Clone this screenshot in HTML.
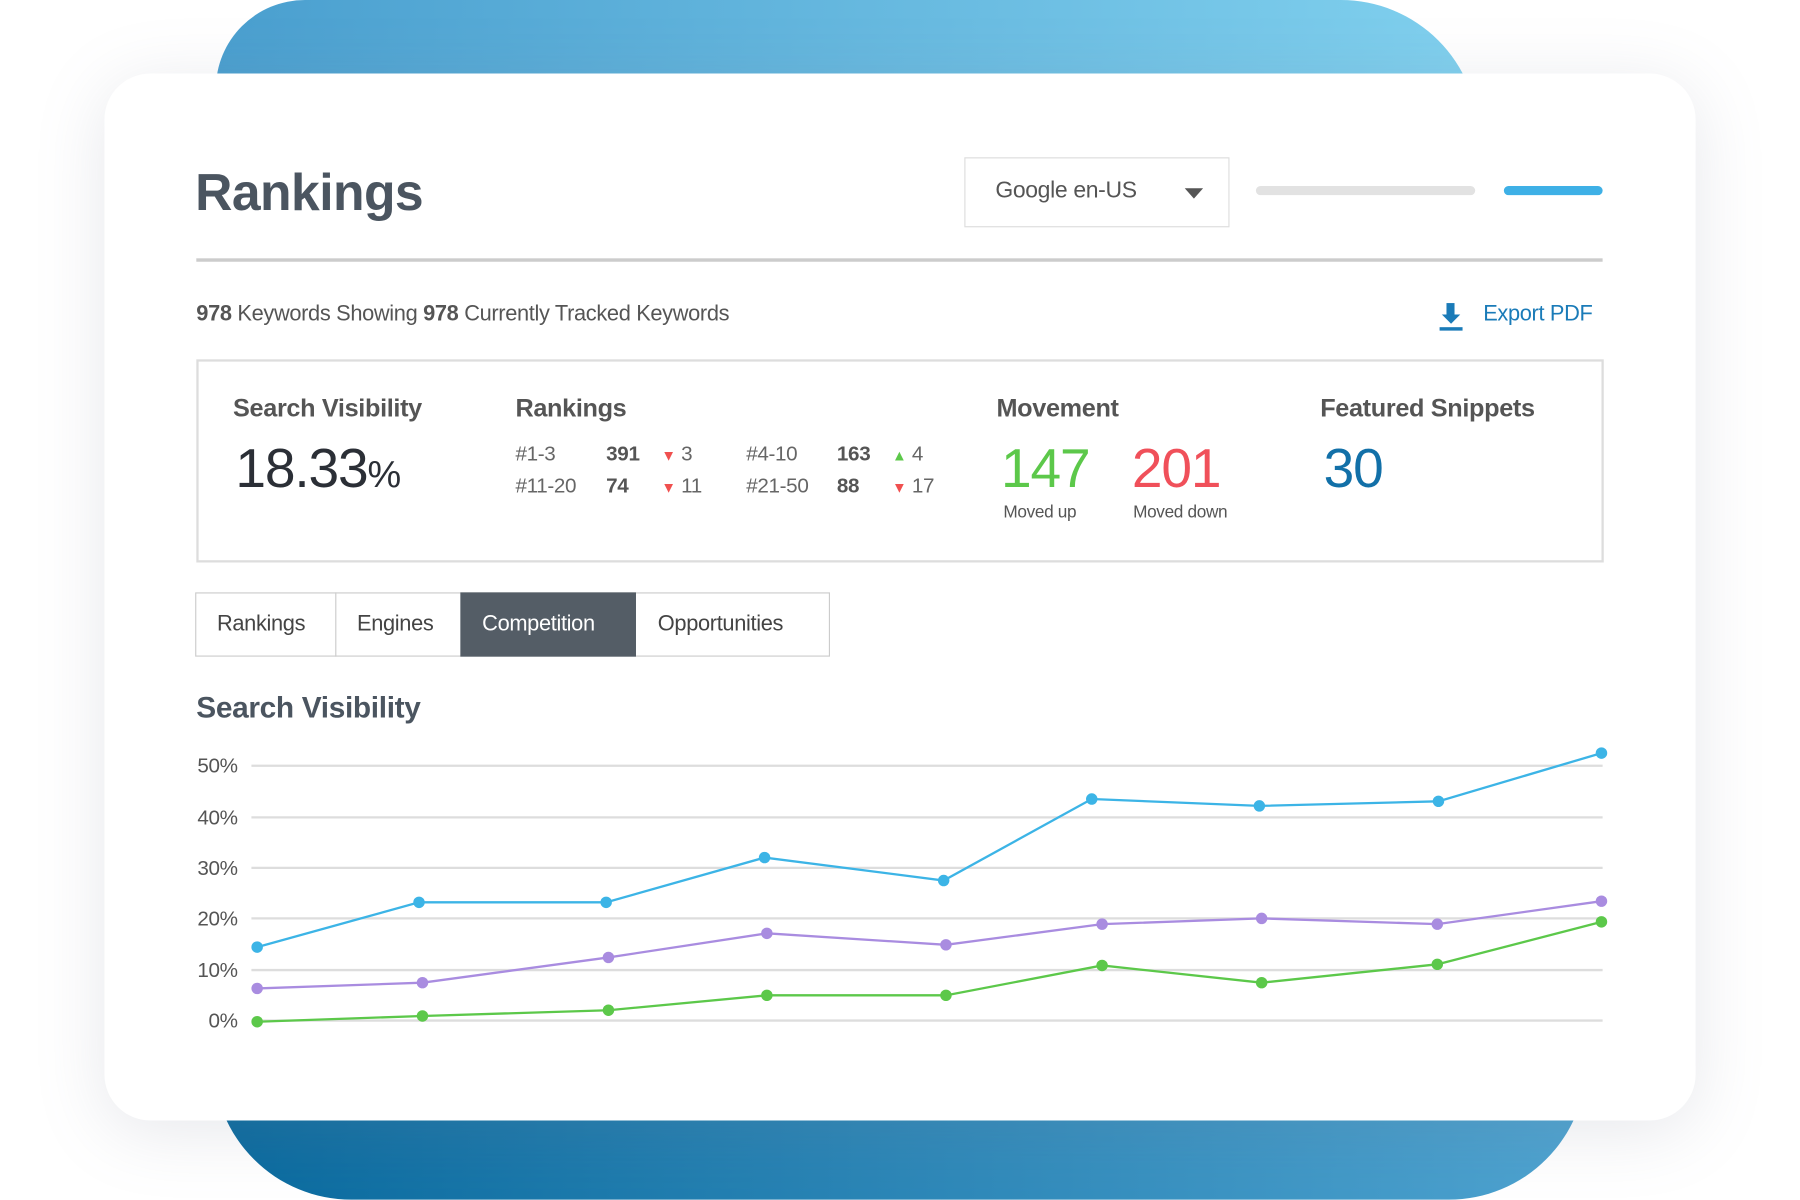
<!DOCTYPE html>
<html><head><meta charset="utf-8"><style>
html,body{margin:0;padding:0;width:1800px;height:1200px;overflow:hidden;background:#fff;}
#w{position:absolute;left:0;top:0;width:1568px;height:1045px;transform:scale(1.148);transform-origin:0 0;font-family:"Liberation Sans",sans-serif;color:#4b5560;letter-spacing:-0.3px;}
.a{position:absolute;white-space:nowrap;}
</style></head><body><div id="w">
<div class="a" style="left:188px;top:0;width:1100px;height:120px;border-radius:110px 170px 0 0;background:linear-gradient(90deg,#4a9fcf,#80d0ee);"></div>
<div class="a" style="left:186px;top:900px;width:1196px;height:145px;border-radius:0 0 120px 120px;background:linear-gradient(90deg,#0a6a9e,#4ea3d0);"></div>
<div class="a" style="left:91px;top:64px;width:1386px;height:912px;border-radius:40px;background:#fff;box-shadow:0 10px 60px rgba(120,130,150,0.18);"></div>
<div class="a" style="left:170px;top:142px;font-size:45px;font-weight:bold;letter-spacing:-0.5px;">Rankings</div>
<div class="a" style="left:840px;top:137px;width:229px;height:59px;border:1px solid #ddd;"></div>
<div class="a" style="left:867px;top:155px;font-size:20px;color:#555;">Google en-US</div>
<div class="a" style="left:1032px;top:164px;width:0;height:0;border-left:8px solid transparent;border-right:8px solid transparent;border-top:9px solid #555;"></div>
<div class="a" style="left:1094px;top:162px;width:191px;height:8px;border-radius:4px;background:#e2e2e2;"></div>
<div class="a" style="left:1310px;top:162px;width:86px;height:8px;border-radius:4px;background:#3eb0e6;"></div>
<div class="a" style="left:171px;top:225px;width:1225px;height:3px;background:#ccc;"></div>
<div class="a" style="left:171px;top:263px;font-size:19px;color:#555;"><b>978</b> Keywords Showing <b>978</b> Currently Tracked Keywords</div>
<div class="a" style="left:1292px;top:263px;font-size:19px;color:#1a7bb8;">Export PDF</div>
<div class="a" style="left:1260px;top:264px;width:7px;height:11px;background:#1a7bb8;"></div>
<div class="a" style="left:1256px;top:274px;width:0;height:0;border-left:8px solid transparent;border-right:8px solid transparent;border-top:8px solid #1a7bb8;"></div>
<div class="a" style="left:1254px;top:285px;width:20px;height:3px;background:#1a7bb8;"></div>
<div class="a" style="left:171px;top:313px;width:1222px;height:173px;border:2px solid #ddd;"></div>
<div class="a" style="left:203px;top:343px;font-size:22px;font-weight:bold;color:#555;">Search Visibility</div>
<div class="a" style="left:205px;top:381px;font-size:48px;color:#2b2f36;letter-spacing:-1px;">18.33<span style="font-size:33px">%</span></div>
<div class="a" style="left:449px;top:343px;font-size:22px;font-weight:bold;color:#555;">Rankings</div>
<div class="a" style="left:449px;top:385px;font-size:18px;color:#666;">#1-3</div>
<div class="a" style="left:528px;top:385px;font-size:18px;font-weight:bold;color:#555;">391</div>
<div class="a" style="left:576px;top:385px;font-size:18px;color:#666;"><span style="color:#f0504f;font-size:13px">▼</span> 3</div>
<div class="a" style="left:650px;top:385px;font-size:18px;color:#666;">#4-10</div>
<div class="a" style="left:729px;top:385px;font-size:18px;font-weight:bold;color:#555;">163</div>
<div class="a" style="left:777px;top:385px;font-size:18px;color:#666;"><span style="color:#5cc84a;font-size:13px">▲</span> 4</div>
<div class="a" style="left:449px;top:413px;font-size:18px;color:#666;">#11-20</div>
<div class="a" style="left:528px;top:413px;font-size:18px;font-weight:bold;color:#555;">74</div>
<div class="a" style="left:576px;top:413px;font-size:18px;color:#666;"><span style="color:#f0504f;font-size:13px">▼</span> 11</div>
<div class="a" style="left:650px;top:413px;font-size:18px;color:#666;">#21-50</div>
<div class="a" style="left:729px;top:413px;font-size:18px;font-weight:bold;color:#555;">88</div>
<div class="a" style="left:777px;top:413px;font-size:18px;color:#666;"><span style="color:#f0504f;font-size:13px">▼</span> 17</div>
<div class="a" style="left:868px;top:343px;font-size:22px;font-weight:bold;color:#555;">Movement</div>
<div class="a" style="left:872px;top:381px;font-size:48px;color:#5cc84a;letter-spacing:-1px;">147</div>
<div class="a" style="left:986px;top:381px;font-size:48px;color:#f0505a;letter-spacing:-1px;">201</div>
<div class="a" style="left:874px;top:438px;font-size:15px;color:#555;">Moved up</div>
<div class="a" style="left:987px;top:438px;font-size:15px;color:#555;">Moved down</div>
<div class="a" style="left:1150px;top:343px;font-size:22px;font-weight:bold;color:#555;">Featured Snippets</div>
<div class="a" style="left:1153px;top:381px;font-size:48px;color:#1270a8;letter-spacing:-1px;">30</div>
<div class="a" style="left:170px;top:516px;width:551px;height:54px;border:1px solid #ccc;"></div>
<div class="a" style="left:292px;top:516px;width:1px;height:56px;background:#ccc;"></div>
<div class="a" style="left:401px;top:516px;width:153px;height:56px;background:#545d66;"></div>
<div class="a" style="left:189px;top:533px;font-size:19px;color:#444;">Rankings</div>
<div class="a" style="left:311px;top:533px;font-size:19px;color:#444;">Engines</div>
<div class="a" style="left:420px;top:533px;font-size:19px;color:#fff;">Competition</div>
<div class="a" style="left:573px;top:533px;font-size:19px;color:#444;">Opportunities</div>
<div class="a" style="left:171px;top:601px;font-size:26px;font-weight:bold;">Search Visibility</div>
<svg class="a" style="left:0;top:0" width="1568" height="1045">
<g stroke="#ddd" stroke-width="2">
<line x1="219" x2="1396" y1="667" y2="667"/><line x1="219" x2="1396" y1="712" y2="712"/><line x1="219" x2="1396" y1="756" y2="756"/><line x1="219" x2="1396" y1="800" y2="800"/><line x1="219" x2="1396" y1="845" y2="845"/><line x1="219" x2="1396" y1="889" y2="889"/></g>
<g font-family="Liberation Sans,sans-serif" font-size="18" fill="#555" text-anchor="end">
<text x="207" y="673">50%</text><text x="207" y="718">40%</text><text x="207" y="762">30%</text><text x="207" y="806">20%</text><text x="207" y="851">10%</text><text x="207" y="895">0%</text></g>
<g fill="none" stroke-width="2">
<polyline stroke="#3cb4e6" points="224,825 365,786 528,786 666,747 822,767 951,696 1097,702 1253,698 1395,656"/>
<polyline stroke="#a98ce0" points="224,861 368,856 530,834 668,813 824,823 960,805 1099,800 1252,805 1395,785"/>
<polyline stroke="#5cc84a" points="224,890 368,885 530,880 668,867 824,867 960,841 1099,856 1252,840 1395,803"/></g>
<g fill="#3cb4e6"><circle cx="224" cy="825" r="5"/><circle cx="365" cy="786" r="5"/><circle cx="528" cy="786" r="5"/><circle cx="666" cy="747" r="5"/><circle cx="822" cy="767" r="5"/><circle cx="951" cy="696" r="5"/><circle cx="1097" cy="702" r="5"/><circle cx="1253" cy="698" r="5"/><circle cx="1395" cy="656" r="5"/></g>
<g fill="#a98ce0"><circle cx="224" cy="861" r="5"/><circle cx="368" cy="856" r="5"/><circle cx="530" cy="834" r="5"/><circle cx="668" cy="813" r="5"/><circle cx="824" cy="823" r="5"/><circle cx="960" cy="805" r="5"/><circle cx="1099" cy="800" r="5"/><circle cx="1252" cy="805" r="5"/><circle cx="1395" cy="785" r="5"/></g>
<g fill="#5cc84a"><circle cx="224" cy="890" r="5"/><circle cx="368" cy="885" r="5"/><circle cx="530" cy="880" r="5"/><circle cx="668" cy="867" r="5"/><circle cx="824" cy="867" r="5"/><circle cx="960" cy="841" r="5"/><circle cx="1099" cy="856" r="5"/><circle cx="1252" cy="840" r="5"/><circle cx="1395" cy="803" r="5"/></g>
</svg>
</div></body></html>
